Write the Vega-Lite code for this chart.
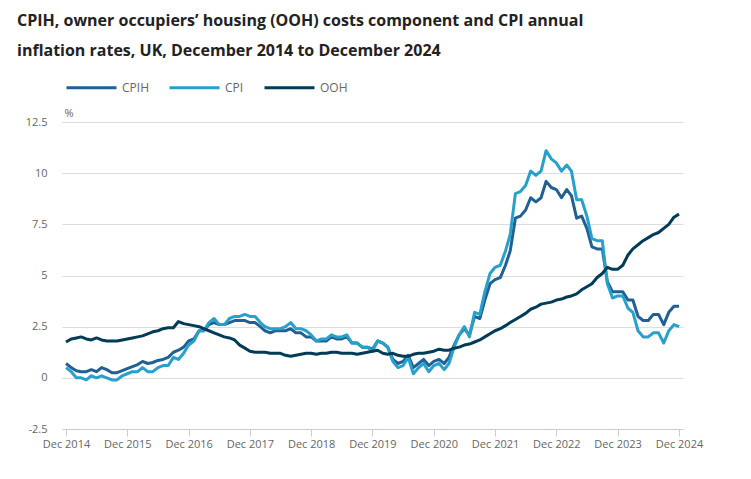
{
  "$schema": "https://vega.github.io/schema/vega-lite/v6.json",
  "autosize": {"type": "none"},
  "width": 621,
  "height": 307,
  "padding": {"left": 62, "top": 122, "right": 68, "bottom": 50},
  "title": {
    "text": ["CPIH, owner occupiers’ housing (OOH) costs component and CPI annual", "inflation rates, UK, December 2014 to December 2024"],
    "anchor": "start",
    "frame": "group",
    "dx": -45,
    "fontSize": 16,
    "fontWeight": "bold",
    "font": "Open Sans",
    "color": "#222222",
    "lineHeight": 30,
    "offset": 2
  },
  "data": {
    "values": [
      {"month": "2014-12-01", "series": "CPIH", "rate": 0.7},
      {"month": "2015-01-01", "series": "CPIH", "rate": 0.5},
      {"month": "2015-02-01", "series": "CPIH", "rate": 0.35},
      {"month": "2015-03-01", "series": "CPIH", "rate": 0.3},
      {"month": "2015-04-01", "series": "CPIH", "rate": 0.3},
      {"month": "2015-05-01", "series": "CPIH", "rate": 0.4},
      {"month": "2015-06-01", "series": "CPIH", "rate": 0.3},
      {"month": "2015-07-01", "series": "CPIH", "rate": 0.5},
      {"month": "2015-08-01", "series": "CPIH", "rate": 0.4},
      {"month": "2015-09-01", "series": "CPIH", "rate": 0.25},
      {"month": "2015-10-01", "series": "CPIH", "rate": 0.25},
      {"month": "2015-11-01", "series": "CPIH", "rate": 0.35},
      {"month": "2015-12-01", "series": "CPIH", "rate": 0.45},
      {"month": "2016-01-01", "series": "CPIH", "rate": 0.55},
      {"month": "2016-02-01", "series": "CPIH", "rate": 0.65},
      {"month": "2016-03-01", "series": "CPIH", "rate": 0.8},
      {"month": "2016-04-01", "series": "CPIH", "rate": 0.7},
      {"month": "2016-05-01", "series": "CPIH", "rate": 0.75},
      {"month": "2016-06-01", "series": "CPIH", "rate": 0.85},
      {"month": "2016-07-01", "series": "CPIH", "rate": 0.9},
      {"month": "2016-08-01", "series": "CPIH", "rate": 1.0},
      {"month": "2016-09-01", "series": "CPIH", "rate": 1.25},
      {"month": "2016-10-01", "series": "CPIH", "rate": 1.35},
      {"month": "2016-11-01", "series": "CPIH", "rate": 1.5},
      {"month": "2016-12-01", "series": "CPIH", "rate": 1.8},
      {"month": "2017-01-01", "series": "CPIH", "rate": 1.9},
      {"month": "2017-02-01", "series": "CPIH", "rate": 2.3},
      {"month": "2017-03-01", "series": "CPIH", "rate": 2.3},
      {"month": "2017-04-01", "series": "CPIH", "rate": 2.6},
      {"month": "2017-05-01", "series": "CPIH", "rate": 2.7},
      {"month": "2017-06-01", "series": "CPIH", "rate": 2.6},
      {"month": "2017-07-01", "series": "CPIH", "rate": 2.6},
      {"month": "2017-08-01", "series": "CPIH", "rate": 2.7},
      {"month": "2017-09-01", "series": "CPIH", "rate": 2.8},
      {"month": "2017-10-01", "series": "CPIH", "rate": 2.8},
      {"month": "2017-11-01", "series": "CPIH", "rate": 2.8},
      {"month": "2017-12-01", "series": "CPIH", "rate": 2.7},
      {"month": "2018-01-01", "series": "CPIH", "rate": 2.7},
      {"month": "2018-02-01", "series": "CPIH", "rate": 2.5},
      {"month": "2018-03-01", "series": "CPIH", "rate": 2.3},
      {"month": "2018-04-01", "series": "CPIH", "rate": 2.2},
      {"month": "2018-05-01", "series": "CPIH", "rate": 2.3},
      {"month": "2018-06-01", "series": "CPIH", "rate": 2.3},
      {"month": "2018-07-01", "series": "CPIH", "rate": 2.3},
      {"month": "2018-08-01", "series": "CPIH", "rate": 2.4},
      {"month": "2018-09-01", "series": "CPIH", "rate": 2.2},
      {"month": "2018-10-01", "series": "CPIH", "rate": 2.2},
      {"month": "2018-11-01", "series": "CPIH", "rate": 2.0},
      {"month": "2018-12-01", "series": "CPIH", "rate": 2.0},
      {"month": "2019-01-01", "series": "CPIH", "rate": 1.8},
      {"month": "2019-02-01", "series": "CPIH", "rate": 1.8},
      {"month": "2019-03-01", "series": "CPIH", "rate": 1.8},
      {"month": "2019-04-01", "series": "CPIH", "rate": 2.0},
      {"month": "2019-05-01", "series": "CPIH", "rate": 1.9},
      {"month": "2019-06-01", "series": "CPIH", "rate": 1.9},
      {"month": "2019-07-01", "series": "CPIH", "rate": 2.0},
      {"month": "2019-08-01", "series": "CPIH", "rate": 1.7},
      {"month": "2019-09-01", "series": "CPIH", "rate": 1.7},
      {"month": "2019-10-01", "series": "CPIH", "rate": 1.5},
      {"month": "2019-11-01", "series": "CPIH", "rate": 1.5},
      {"month": "2019-12-01", "series": "CPIH", "rate": 1.4},
      {"month": "2020-01-01", "series": "CPIH", "rate": 1.8},
      {"month": "2020-02-01", "series": "CPIH", "rate": 1.7},
      {"month": "2020-03-01", "series": "CPIH", "rate": 1.5},
      {"month": "2020-04-01", "series": "CPIH", "rate": 0.9},
      {"month": "2020-05-01", "series": "CPIH", "rate": 0.7},
      {"month": "2020-06-01", "series": "CPIH", "rate": 0.8},
      {"month": "2020-07-01", "series": "CPIH", "rate": 1.1},
      {"month": "2020-08-01", "series": "CPIH", "rate": 0.5},
      {"month": "2020-09-01", "series": "CPIH", "rate": 0.7},
      {"month": "2020-10-01", "series": "CPIH", "rate": 0.9},
      {"month": "2020-11-01", "series": "CPIH", "rate": 0.6},
      {"month": "2020-12-01", "series": "CPIH", "rate": 0.8},
      {"month": "2021-01-01", "series": "CPIH", "rate": 0.9},
      {"month": "2021-02-01", "series": "CPIH", "rate": 0.7},
      {"month": "2021-03-01", "series": "CPIH", "rate": 1.0},
      {"month": "2021-04-01", "series": "CPIH", "rate": 1.6},
      {"month": "2021-05-01", "series": "CPIH", "rate": 2.1},
      {"month": "2021-06-01", "series": "CPIH", "rate": 2.4},
      {"month": "2021-07-01", "series": "CPIH", "rate": 2.1},
      {"month": "2021-08-01", "series": "CPIH", "rate": 3.0},
      {"month": "2021-09-01", "series": "CPIH", "rate": 2.9},
      {"month": "2021-10-01", "series": "CPIH", "rate": 3.8},
      {"month": "2021-11-01", "series": "CPIH", "rate": 4.6},
      {"month": "2021-12-01", "series": "CPIH", "rate": 4.8},
      {"month": "2022-01-01", "series": "CPIH", "rate": 4.9},
      {"month": "2022-02-01", "series": "CPIH", "rate": 5.5},
      {"month": "2022-03-01", "series": "CPIH", "rate": 6.2},
      {"month": "2022-04-01", "series": "CPIH", "rate": 7.8},
      {"month": "2022-05-01", "series": "CPIH", "rate": 7.9},
      {"month": "2022-06-01", "series": "CPIH", "rate": 8.2},
      {"month": "2022-07-01", "series": "CPIH", "rate": 8.8},
      {"month": "2022-08-01", "series": "CPIH", "rate": 8.6},
      {"month": "2022-09-01", "series": "CPIH", "rate": 8.8},
      {"month": "2022-10-01", "series": "CPIH", "rate": 9.6},
      {"month": "2022-11-01", "series": "CPIH", "rate": 9.3},
      {"month": "2022-12-01", "series": "CPIH", "rate": 9.2},
      {"month": "2023-01-01", "series": "CPIH", "rate": 8.8},
      {"month": "2023-02-01", "series": "CPIH", "rate": 9.2},
      {"month": "2023-03-01", "series": "CPIH", "rate": 8.9},
      {"month": "2023-04-01", "series": "CPIH", "rate": 7.8},
      {"month": "2023-05-01", "series": "CPIH", "rate": 7.9},
      {"month": "2023-06-01", "series": "CPIH", "rate": 7.3},
      {"month": "2023-07-01", "series": "CPIH", "rate": 6.4},
      {"month": "2023-08-01", "series": "CPIH", "rate": 6.3},
      {"month": "2023-09-01", "series": "CPIH", "rate": 6.3},
      {"month": "2023-10-01", "series": "CPIH", "rate": 4.7},
      {"month": "2023-11-01", "series": "CPIH", "rate": 4.2},
      {"month": "2023-12-01", "series": "CPIH", "rate": 4.2},
      {"month": "2024-01-01", "series": "CPIH", "rate": 4.2},
      {"month": "2024-02-01", "series": "CPIH", "rate": 3.8},
      {"month": "2024-03-01", "series": "CPIH", "rate": 3.8},
      {"month": "2024-04-01", "series": "CPIH", "rate": 3.0},
      {"month": "2024-05-01", "series": "CPIH", "rate": 2.8},
      {"month": "2024-06-01", "series": "CPIH", "rate": 2.8},
      {"month": "2024-07-01", "series": "CPIH", "rate": 3.1},
      {"month": "2024-08-01", "series": "CPIH", "rate": 3.1},
      {"month": "2024-09-01", "series": "CPIH", "rate": 2.6},
      {"month": "2024-10-01", "series": "CPIH", "rate": 3.2},
      {"month": "2024-11-01", "series": "CPIH", "rate": 3.5},
      {"month": "2024-12-01", "series": "CPIH", "rate": 3.5},
      {"month": "2014-12-01", "series": "CPI", "rate": 0.5},
      {"month": "2015-01-01", "series": "CPI", "rate": 0.3},
      {"month": "2015-02-01", "series": "CPI", "rate": 0.0},
      {"month": "2015-03-01", "series": "CPI", "rate": 0.0},
      {"month": "2015-04-01", "series": "CPI", "rate": -0.1},
      {"month": "2015-05-01", "series": "CPI", "rate": 0.1},
      {"month": "2015-06-01", "series": "CPI", "rate": 0.0},
      {"month": "2015-07-01", "series": "CPI", "rate": 0.1},
      {"month": "2015-08-01", "series": "CPI", "rate": 0.0},
      {"month": "2015-09-01", "series": "CPI", "rate": -0.1},
      {"month": "2015-10-01", "series": "CPI", "rate": -0.1},
      {"month": "2015-11-01", "series": "CPI", "rate": 0.1},
      {"month": "2015-12-01", "series": "CPI", "rate": 0.2},
      {"month": "2016-01-01", "series": "CPI", "rate": 0.3},
      {"month": "2016-02-01", "series": "CPI", "rate": 0.3},
      {"month": "2016-03-01", "series": "CPI", "rate": 0.5},
      {"month": "2016-04-01", "series": "CPI", "rate": 0.3},
      {"month": "2016-05-01", "series": "CPI", "rate": 0.3},
      {"month": "2016-06-01", "series": "CPI", "rate": 0.5},
      {"month": "2016-07-01", "series": "CPI", "rate": 0.6},
      {"month": "2016-08-01", "series": "CPI", "rate": 0.6},
      {"month": "2016-09-01", "series": "CPI", "rate": 1.0},
      {"month": "2016-10-01", "series": "CPI", "rate": 0.9},
      {"month": "2016-11-01", "series": "CPI", "rate": 1.2},
      {"month": "2016-12-01", "series": "CPI", "rate": 1.6},
      {"month": "2017-01-01", "series": "CPI", "rate": 1.8},
      {"month": "2017-02-01", "series": "CPI", "rate": 2.3},
      {"month": "2017-03-01", "series": "CPI", "rate": 2.3},
      {"month": "2017-04-01", "series": "CPI", "rate": 2.7},
      {"month": "2017-05-01", "series": "CPI", "rate": 2.9},
      {"month": "2017-06-01", "series": "CPI", "rate": 2.6},
      {"month": "2017-07-01", "series": "CPI", "rate": 2.6},
      {"month": "2017-08-01", "series": "CPI", "rate": 2.9},
      {"month": "2017-09-01", "series": "CPI", "rate": 3.0},
      {"month": "2017-10-01", "series": "CPI", "rate": 3.0},
      {"month": "2017-11-01", "series": "CPI", "rate": 3.1},
      {"month": "2017-12-01", "series": "CPI", "rate": 3.0},
      {"month": "2018-01-01", "series": "CPI", "rate": 3.0},
      {"month": "2018-02-01", "series": "CPI", "rate": 2.7},
      {"month": "2018-03-01", "series": "CPI", "rate": 2.5},
      {"month": "2018-04-01", "series": "CPI", "rate": 2.4},
      {"month": "2018-05-01", "series": "CPI", "rate": 2.4},
      {"month": "2018-06-01", "series": "CPI", "rate": 2.4},
      {"month": "2018-07-01", "series": "CPI", "rate": 2.5},
      {"month": "2018-08-01", "series": "CPI", "rate": 2.7},
      {"month": "2018-09-01", "series": "CPI", "rate": 2.4},
      {"month": "2018-10-01", "series": "CPI", "rate": 2.4},
      {"month": "2018-11-01", "series": "CPI", "rate": 2.3},
      {"month": "2018-12-01", "series": "CPI", "rate": 2.1},
      {"month": "2019-01-01", "series": "CPI", "rate": 1.8},
      {"month": "2019-02-01", "series": "CPI", "rate": 1.9},
      {"month": "2019-03-01", "series": "CPI", "rate": 1.9},
      {"month": "2019-04-01", "series": "CPI", "rate": 2.1},
      {"month": "2019-05-01", "series": "CPI", "rate": 2.0},
      {"month": "2019-06-01", "series": "CPI", "rate": 2.0},
      {"month": "2019-07-01", "series": "CPI", "rate": 2.1},
      {"month": "2019-08-01", "series": "CPI", "rate": 1.7},
      {"month": "2019-09-01", "series": "CPI", "rate": 1.7},
      {"month": "2019-10-01", "series": "CPI", "rate": 1.5},
      {"month": "2019-11-01", "series": "CPI", "rate": 1.5},
      {"month": "2019-12-01", "series": "CPI", "rate": 1.3},
      {"month": "2020-01-01", "series": "CPI", "rate": 1.8},
      {"month": "2020-02-01", "series": "CPI", "rate": 1.7},
      {"month": "2020-03-01", "series": "CPI", "rate": 1.5},
      {"month": "2020-04-01", "series": "CPI", "rate": 0.8},
      {"month": "2020-05-01", "series": "CPI", "rate": 0.5},
      {"month": "2020-06-01", "series": "CPI", "rate": 0.6},
      {"month": "2020-07-01", "series": "CPI", "rate": 1.0},
      {"month": "2020-08-01", "series": "CPI", "rate": 0.2},
      {"month": "2020-09-01", "series": "CPI", "rate": 0.5},
      {"month": "2020-10-01", "series": "CPI", "rate": 0.7},
      {"month": "2020-11-01", "series": "CPI", "rate": 0.3},
      {"month": "2020-12-01", "series": "CPI", "rate": 0.6},
      {"month": "2021-01-01", "series": "CPI", "rate": 0.7},
      {"month": "2021-02-01", "series": "CPI", "rate": 0.4},
      {"month": "2021-03-01", "series": "CPI", "rate": 0.7},
      {"month": "2021-04-01", "series": "CPI", "rate": 1.5},
      {"month": "2021-05-01", "series": "CPI", "rate": 2.1},
      {"month": "2021-06-01", "series": "CPI", "rate": 2.5},
      {"month": "2021-07-01", "series": "CPI", "rate": 2.0},
      {"month": "2021-08-01", "series": "CPI", "rate": 3.2},
      {"month": "2021-09-01", "series": "CPI", "rate": 3.1},
      {"month": "2021-10-01", "series": "CPI", "rate": 4.2},
      {"month": "2021-11-01", "series": "CPI", "rate": 5.1},
      {"month": "2021-12-01", "series": "CPI", "rate": 5.4},
      {"month": "2022-01-01", "series": "CPI", "rate": 5.5},
      {"month": "2022-02-01", "series": "CPI", "rate": 6.2},
      {"month": "2022-03-01", "series": "CPI", "rate": 7.0},
      {"month": "2022-04-01", "series": "CPI", "rate": 9.0},
      {"month": "2022-05-01", "series": "CPI", "rate": 9.1},
      {"month": "2022-06-01", "series": "CPI", "rate": 9.4},
      {"month": "2022-07-01", "series": "CPI", "rate": 10.1},
      {"month": "2022-08-01", "series": "CPI", "rate": 9.9},
      {"month": "2022-09-01", "series": "CPI", "rate": 10.1},
      {"month": "2022-10-01", "series": "CPI", "rate": 11.1},
      {"month": "2022-11-01", "series": "CPI", "rate": 10.7},
      {"month": "2022-12-01", "series": "CPI", "rate": 10.5},
      {"month": "2023-01-01", "series": "CPI", "rate": 10.1},
      {"month": "2023-02-01", "series": "CPI", "rate": 10.4},
      {"month": "2023-03-01", "series": "CPI", "rate": 10.1},
      {"month": "2023-04-01", "series": "CPI", "rate": 8.7},
      {"month": "2023-05-01", "series": "CPI", "rate": 8.7},
      {"month": "2023-06-01", "series": "CPI", "rate": 7.9},
      {"month": "2023-07-01", "series": "CPI", "rate": 6.8},
      {"month": "2023-08-01", "series": "CPI", "rate": 6.7},
      {"month": "2023-09-01", "series": "CPI", "rate": 6.7},
      {"month": "2023-10-01", "series": "CPI", "rate": 4.6},
      {"month": "2023-11-01", "series": "CPI", "rate": 3.9},
      {"month": "2023-12-01", "series": "CPI", "rate": 4.0},
      {"month": "2024-01-01", "series": "CPI", "rate": 4.0},
      {"month": "2024-02-01", "series": "CPI", "rate": 3.4},
      {"month": "2024-03-01", "series": "CPI", "rate": 3.2},
      {"month": "2024-04-01", "series": "CPI", "rate": 2.3},
      {"month": "2024-05-01", "series": "CPI", "rate": 2.0},
      {"month": "2024-06-01", "series": "CPI", "rate": 2.0},
      {"month": "2024-07-01", "series": "CPI", "rate": 2.2},
      {"month": "2024-08-01", "series": "CPI", "rate": 2.2},
      {"month": "2024-09-01", "series": "CPI", "rate": 1.7},
      {"month": "2024-10-01", "series": "CPI", "rate": 2.3},
      {"month": "2024-11-01", "series": "CPI", "rate": 2.6},
      {"month": "2024-12-01", "series": "CPI", "rate": 2.5},
      {"month": "2014-12-01", "series": "OOH", "rate": 1.75},
      {"month": "2015-01-01", "series": "OOH", "rate": 1.9},
      {"month": "2015-02-01", "series": "OOH", "rate": 1.95},
      {"month": "2015-03-01", "series": "OOH", "rate": 2.0},
      {"month": "2015-04-01", "series": "OOH", "rate": 1.9},
      {"month": "2015-05-01", "series": "OOH", "rate": 1.85},
      {"month": "2015-06-01", "series": "OOH", "rate": 1.95},
      {"month": "2015-07-01", "series": "OOH", "rate": 1.85},
      {"month": "2015-08-01", "series": "OOH", "rate": 1.8},
      {"month": "2015-09-01", "series": "OOH", "rate": 1.8},
      {"month": "2015-10-01", "series": "OOH", "rate": 1.8},
      {"month": "2015-11-01", "series": "OOH", "rate": 1.85},
      {"month": "2015-12-01", "series": "OOH", "rate": 1.9},
      {"month": "2016-01-01", "series": "OOH", "rate": 1.95},
      {"month": "2016-02-01", "series": "OOH", "rate": 2.0},
      {"month": "2016-03-01", "series": "OOH", "rate": 2.05},
      {"month": "2016-04-01", "series": "OOH", "rate": 2.15},
      {"month": "2016-05-01", "series": "OOH", "rate": 2.25},
      {"month": "2016-06-01", "series": "OOH", "rate": 2.3},
      {"month": "2016-07-01", "series": "OOH", "rate": 2.4},
      {"month": "2016-08-01", "series": "OOH", "rate": 2.45},
      {"month": "2016-09-01", "series": "OOH", "rate": 2.45},
      {"month": "2016-10-01", "series": "OOH", "rate": 2.75},
      {"month": "2016-11-01", "series": "OOH", "rate": 2.65},
      {"month": "2016-12-01", "series": "OOH", "rate": 2.6},
      {"month": "2017-01-01", "series": "OOH", "rate": 2.55},
      {"month": "2017-02-01", "series": "OOH", "rate": 2.5},
      {"month": "2017-03-01", "series": "OOH", "rate": 2.4},
      {"month": "2017-04-01", "series": "OOH", "rate": 2.3},
      {"month": "2017-05-01", "series": "OOH", "rate": 2.2},
      {"month": "2017-06-01", "series": "OOH", "rate": 2.1},
      {"month": "2017-07-01", "series": "OOH", "rate": 2.0},
      {"month": "2017-08-01", "series": "OOH", "rate": 1.95},
      {"month": "2017-09-01", "series": "OOH", "rate": 1.85},
      {"month": "2017-10-01", "series": "OOH", "rate": 1.6},
      {"month": "2017-11-01", "series": "OOH", "rate": 1.45},
      {"month": "2017-12-01", "series": "OOH", "rate": 1.3},
      {"month": "2018-01-01", "series": "OOH", "rate": 1.25},
      {"month": "2018-02-01", "series": "OOH", "rate": 1.25},
      {"month": "2018-03-01", "series": "OOH", "rate": 1.25},
      {"month": "2018-04-01", "series": "OOH", "rate": 1.2},
      {"month": "2018-05-01", "series": "OOH", "rate": 1.2},
      {"month": "2018-06-01", "series": "OOH", "rate": 1.2},
      {"month": "2018-07-01", "series": "OOH", "rate": 1.1},
      {"month": "2018-08-01", "series": "OOH", "rate": 1.05},
      {"month": "2018-09-01", "series": "OOH", "rate": 1.1},
      {"month": "2018-10-01", "series": "OOH", "rate": 1.15},
      {"month": "2018-11-01", "series": "OOH", "rate": 1.2},
      {"month": "2018-12-01", "series": "OOH", "rate": 1.2},
      {"month": "2019-01-01", "series": "OOH", "rate": 1.15},
      {"month": "2019-02-01", "series": "OOH", "rate": 1.2},
      {"month": "2019-03-01", "series": "OOH", "rate": 1.2},
      {"month": "2019-04-01", "series": "OOH", "rate": 1.25},
      {"month": "2019-05-01", "series": "OOH", "rate": 1.25},
      {"month": "2019-06-01", "series": "OOH", "rate": 1.2},
      {"month": "2019-07-01", "series": "OOH", "rate": 1.2},
      {"month": "2019-08-01", "series": "OOH", "rate": 1.2},
      {"month": "2019-09-01", "series": "OOH", "rate": 1.15},
      {"month": "2019-10-01", "series": "OOH", "rate": 1.2},
      {"month": "2019-11-01", "series": "OOH", "rate": 1.25},
      {"month": "2019-12-01", "series": "OOH", "rate": 1.3},
      {"month": "2020-01-01", "series": "OOH", "rate": 1.35},
      {"month": "2020-02-01", "series": "OOH", "rate": 1.2},
      {"month": "2020-03-01", "series": "OOH", "rate": 1.15},
      {"month": "2020-04-01", "series": "OOH", "rate": 1.2},
      {"month": "2020-05-01", "series": "OOH", "rate": 1.1},
      {"month": "2020-06-01", "series": "OOH", "rate": 1.05},
      {"month": "2020-07-01", "series": "OOH", "rate": 1.05},
      {"month": "2020-08-01", "series": "OOH", "rate": 1.15},
      {"month": "2020-09-01", "series": "OOH", "rate": 1.2},
      {"month": "2020-10-01", "series": "OOH", "rate": 1.2},
      {"month": "2020-11-01", "series": "OOH", "rate": 1.25},
      {"month": "2020-12-01", "series": "OOH", "rate": 1.3},
      {"month": "2021-01-01", "series": "OOH", "rate": 1.4},
      {"month": "2021-02-01", "series": "OOH", "rate": 1.35},
      {"month": "2021-03-01", "series": "OOH", "rate": 1.35},
      {"month": "2021-04-01", "series": "OOH", "rate": 1.45},
      {"month": "2021-05-01", "series": "OOH", "rate": 1.5},
      {"month": "2021-06-01", "series": "OOH", "rate": 1.6},
      {"month": "2021-07-01", "series": "OOH", "rate": 1.65},
      {"month": "2021-08-01", "series": "OOH", "rate": 1.75},
      {"month": "2021-09-01", "series": "OOH", "rate": 1.85},
      {"month": "2021-10-01", "series": "OOH", "rate": 2.0},
      {"month": "2021-11-01", "series": "OOH", "rate": 2.15},
      {"month": "2021-12-01", "series": "OOH", "rate": 2.3},
      {"month": "2022-01-01", "series": "OOH", "rate": 2.4},
      {"month": "2022-02-01", "series": "OOH", "rate": 2.55},
      {"month": "2022-03-01", "series": "OOH", "rate": 2.7},
      {"month": "2022-04-01", "series": "OOH", "rate": 2.85},
      {"month": "2022-05-01", "series": "OOH", "rate": 3.0},
      {"month": "2022-06-01", "series": "OOH", "rate": 3.15},
      {"month": "2022-07-01", "series": "OOH", "rate": 3.35},
      {"month": "2022-08-01", "series": "OOH", "rate": 3.45},
      {"month": "2022-09-01", "series": "OOH", "rate": 3.6},
      {"month": "2022-10-01", "series": "OOH", "rate": 3.65},
      {"month": "2022-11-01", "series": "OOH", "rate": 3.7},
      {"month": "2022-12-01", "series": "OOH", "rate": 3.8},
      {"month": "2023-01-01", "series": "OOH", "rate": 3.85},
      {"month": "2023-02-01", "series": "OOH", "rate": 3.95},
      {"month": "2023-03-01", "series": "OOH", "rate": 4.0},
      {"month": "2023-04-01", "series": "OOH", "rate": 4.1},
      {"month": "2023-05-01", "series": "OOH", "rate": 4.3},
      {"month": "2023-06-01", "series": "OOH", "rate": 4.45},
      {"month": "2023-07-01", "series": "OOH", "rate": 4.6},
      {"month": "2023-08-01", "series": "OOH", "rate": 4.9},
      {"month": "2023-09-01", "series": "OOH", "rate": 5.1},
      {"month": "2023-10-01", "series": "OOH", "rate": 5.4},
      {"month": "2023-11-01", "series": "OOH", "rate": 5.3},
      {"month": "2023-12-01", "series": "OOH", "rate": 5.3},
      {"month": "2024-01-01", "series": "OOH", "rate": 5.5},
      {"month": "2024-02-01", "series": "OOH", "rate": 6.0},
      {"month": "2024-03-01", "series": "OOH", "rate": 6.3},
      {"month": "2024-04-01", "series": "OOH", "rate": 6.5},
      {"month": "2024-05-01", "series": "OOH", "rate": 6.7},
      {"month": "2024-06-01", "series": "OOH", "rate": 6.85},
      {"month": "2024-07-01", "series": "OOH", "rate": 7.0},
      {"month": "2024-08-01", "series": "OOH", "rate": 7.1},
      {"month": "2024-09-01", "series": "OOH", "rate": 7.3},
      {"month": "2024-10-01", "series": "OOH", "rate": 7.5},
      {"month": "2024-11-01", "series": "OOH", "rate": 7.85},
      {"month": "2024-12-01", "series": "OOH", "rate": 8.0}
    ]
  },
  "mark": {"type": "line", "strokeWidth": 3, "strokeJoin": "round"},
  "encoding": {
    "x": {
      "field": "month",
      "type": "temporal",
      "scale": {"type": "utc", "domain": ["2014-12-01", "2024-12-01"], "padding": 4},
      "axis": {
        "title": null,
        "values": ["2014-12-01", "2015-12-01", "2016-12-01", "2017-12-01", "2018-12-01", "2019-12-01", "2020-12-01", "2021-12-01", "2022-12-01", "2023-12-01", "2024-12-01"],
        "labelExpr": "utcFormat(datum.value, '%b %Y')",
        "grid": false,
        "domainColor": "#c6cbe0",
        "tickColor": "#c6cbe0",
        "tickSize": 7,
        "labelColor": "#666666",
        "labelFontSize": 11,
        "labelPadding": 2,
        "labelFlush": false,
        "labelOverlap": false
      }
    },
    "y": {
      "field": "rate",
      "type": "quantitative",
      "scale": {"domain": [-2.5, 12.5], "nice": false, "zero": false},
      "axis": {
        "title": "%",
        "titleAngle": 0,
        "titleX": 2,
        "titleY": -4,
        "titleAlign": "left",
        "titleBaseline": "bottom",
        "titleFontWeight": "normal",
        "titleFontSize": 11,
        "titleColor": "#666666",
        "values": [-2.5, 0, 2.5, 5, 7.5, 10, 12.5],
        "labelExpr": "'' + datum.value",
        "domain": false,
        "ticks": false,
        "gridColor": "#dddddd",
        "labelColor": "#666666",
        "labelFontSize": 11,
        "labelPadding": 15
      }
    },
    "color": {
      "field": "series",
      "type": "nominal",
      "scale": {"domain": ["CPIH", "CPI", "OOH"], "range": ["#206095", "#27a0cc", "#003c57"]},
      "legend": {
        "title": null,
        "orient": "none",
        "legendX": 3,
        "legendY": -61,
        "direction": "horizontal",
        "symbolType": "stroke",
        "symbolSize": 2500,
        "symbolStrokeWidth": 3,
        "labelFontSize": 12,
        "labelColor": "#666666",
        "labelOffset": 4,
        "columnPadding": 14
      }
    }
  },
  "config": {"view": {"stroke": null}, "font": "Open Sans"}
}
